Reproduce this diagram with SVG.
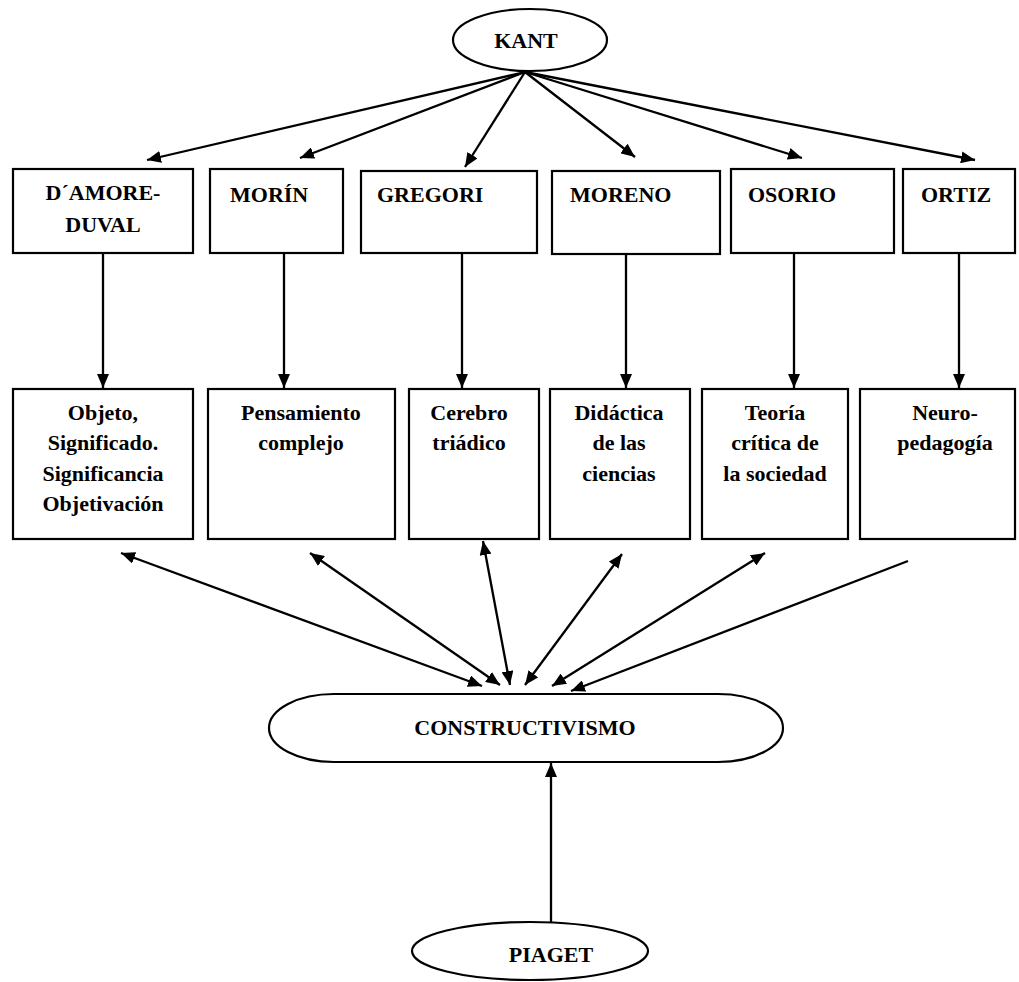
<svg xmlns="http://www.w3.org/2000/svg" width="1019" height="982" viewBox="0 0 1019 982">
<style>
.bx{fill:#fff;stroke:#000;stroke-width:2.2}
.t{font-family:'Liberation Serif','DejaVu Serif',serif;font-weight:bold;font-size:22px;fill:#000}
.c{text-anchor:middle}
.ln{stroke:#000;stroke-width:2.3;fill:none}
</style>
<defs>
<marker id="ah" viewBox="0 0 14 12" refX="14" refY="6" markerWidth="14" markerHeight="12" markerUnits="userSpaceOnUse" orient="auto-start-reverse"><path d="M0,0 L14,6 L0,12 z" fill="#000"/></marker>
</defs>
<rect width="1019" height="982" fill="#fff"/>
<g id="connectors">
<line class="ln" x1="525" y1="72" x2="147" y2="160" marker-end="url(#ah)"/>
<line class="ln" x1="525" y1="72" x2="300" y2="158" marker-end="url(#ah)"/>
<line class="ln" x1="525" y1="72" x2="465" y2="167" marker-end="url(#ah)"/>
<line class="ln" x1="525" y1="72" x2="635" y2="157" marker-end="url(#ah)"/>
<line class="ln" x1="525" y1="72" x2="802" y2="158" marker-end="url(#ah)"/>
<line class="ln" x1="525" y1="72" x2="975" y2="160" marker-end="url(#ah)"/>
<line class="ln" x1="103" y1="253" x2="103" y2="388" marker-end="url(#ah)"/>
<line class="ln" x1="284" y1="253" x2="284" y2="388" marker-end="url(#ah)"/>
<line class="ln" x1="462" y1="253" x2="462" y2="388" marker-end="url(#ah)"/>
<line class="ln" x1="626" y1="254" x2="626" y2="388" marker-end="url(#ah)"/>
<line class="ln" x1="794" y1="253" x2="794" y2="388" marker-end="url(#ah)"/>
<line class="ln" x1="959" y1="253" x2="959" y2="388" marker-end="url(#ah)"/>
<line class="ln" x1="121" y1="553" x2="482" y2="686" marker-start="url(#ah)" marker-end="url(#ah)"/>
<line class="ln" x1="310" y1="553" x2="500" y2="685" marker-start="url(#ah)" marker-end="url(#ah)"/>
<line class="ln" x1="483" y1="541" x2="510" y2="685" marker-start="url(#ah)" marker-end="url(#ah)"/>
<line class="ln" x1="622" y1="554" x2="525" y2="685" marker-start="url(#ah)" marker-end="url(#ah)"/>
<line class="ln" x1="765" y1="553" x2="552" y2="686" marker-start="url(#ah)" marker-end="url(#ah)"/>
<line class="ln" x1="908" y1="561" x2="571" y2="691" marker-end="url(#ah)"/>
<line class="ln" x1="551" y1="922" x2="551" y2="763" marker-end="url(#ah)"/>
</g>
<g id="kant"><ellipse class="bx" cx="530" cy="40" rx="77" ry="31"/><text class="t c" x="526" y="48">KANT</text></g>
<g id="damore"><rect class="bx" x="13" y="169" width="180" height="84"/><text class="t c" x="103" y="200">D´AMORE-</text><text class="t c" x="103" y="232">DUVAL</text></g>
<g id="morin"><rect class="bx" x="210" y="169" width="133" height="84"/><text class="t" x="230" y="202">MORÍN</text></g>
<g id="gregori"><rect class="bx" x="361" y="171" width="176" height="82"/><text class="t" x="377" y="202">GREGORI</text></g>
<g id="moreno"><rect class="bx" x="552" y="171" width="168" height="83"/><text class="t" x="570" y="202">MORENO</text></g>
<g id="osorio"><rect class="bx" x="731" y="169" width="163" height="84"/><text class="t" x="748" y="202">OSORIO</text></g>
<g id="ortiz"><rect class="bx" x="903" y="169" width="112" height="84"/><text class="t" x="921" y="202">ORTIZ</text></g>
<g id="objeto"><rect class="bx" x="13" y="389" width="180" height="150"/><text class="t c" x="103" y="420">Objeto,</text><text class="t c" x="103" y="450">Significado.</text><text class="t c" x="103" y="481">Significancia</text><text class="t c" x="103" y="511">Objetivación</text></g>
<g id="pensamiento"><rect class="bx" x="208" y="389" width="187" height="150"/><text class="t c" x="301" y="420">Pensamiento</text><text class="t c" x="301" y="450">complejo</text></g>
<g id="cerebro"><rect class="bx" x="409" y="389" width="130" height="150"/><text class="t c" x="469" y="420">Cerebro</text><text class="t c" x="469" y="450">triádico</text></g>
<g id="didactica"><rect class="bx" x="550" y="389" width="140" height="150"/><text class="t c" x="619" y="420">Didáctica</text><text class="t c" x="619" y="450">de las</text><text class="t c" x="619" y="481">ciencias</text></g>
<g id="teoria"><rect class="bx" x="702" y="389" width="146" height="150"/><text class="t c" x="775" y="420">Teoría</text><text class="t c" x="775" y="450">crítica de</text><text class="t c" x="775" y="481">la sociedad</text></g>
<g id="neuro"><rect class="bx" x="860" y="389" width="155" height="150"/><text class="t c" x="945" y="420">Neuro-</text><text class="t c" x="945" y="450">pedagogía</text></g>
<g id="constructivismo"><rect class="bx" x="269" y="694" width="514" height="68" rx="65" ry="34"/><text class="t c" x="525" y="735">CONSTRUCTIVISMO</text></g>
<g id="piaget"><ellipse class="bx" cx="530" cy="951" rx="118" ry="29"/><text class="t c" x="551" y="962">PIAGET</text></g>
</svg>
